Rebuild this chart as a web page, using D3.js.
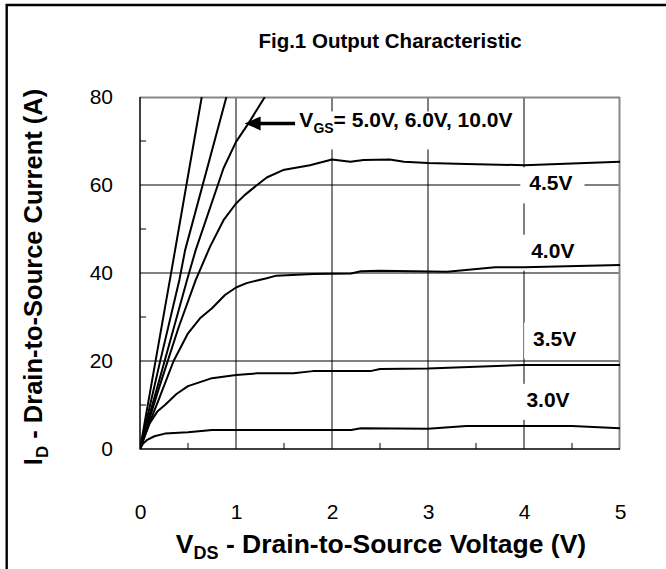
<!DOCTYPE html>
<html><head><meta charset="utf-8">
<script src="https://cdn.jsdelivr.net/npm/d3@7"></script>
<style>
body{margin:0;background:#fff}
svg{display:block}
text{font-family:"Liberation Sans",Arial,Helvetica,sans-serif}
</style>
</head><body>
<svg id="chart" width="666" height="569"></svg>
<script>
// ---------- data ----------
const chartTitle = "Fig.1 Output Characteristic";
const xTickValues = [0, 1, 2, 3, 4, 5];
const yTickValues = [0, 20, 40, 60, 80];
const xMinorTicks = [0.5, 1.5, 2.5, 3.5, 4.5];
const yMinorTicks = [10, 30, 50, 70];
const seriesNames = ["3.0V", "3.5V", "4.0V", "4.5V", "5.0V", "6.0V", "10.0V"];
// each series: [V_DS (V), I_D (A)]
const vgs3_0 = [[0,0],[0.03,1.2],[0.07,2.0],[0.15,2.9],[0.26,3.5],[0.5,3.8],[0.75,4.3],[2.2,4.3],[2.3,4.7],[3.0,4.6],[3.4,5.2],[4.5,5.2],[5.0,4.7]];
const vgs3_5 = [[0,0],[0.05,3],[0.1,5.8],[0.18,8.5],[0.26,10],[0.38,12.5],[0.5,14.3],[0.75,16.1],[1.0,16.8],[1.22,17.2],[1.6,17.2],[1.8,17.7],[2.4,17.7],[2.5,18.2],[3.0,18.3],[4.0,19.1],[5.0,19.1]];
const vgs4_0 = [[0,0],[0.1,6],[0.2,11.5],[0.35,20],[0.5,26.3],[0.625,29.7],[0.75,32.0],[0.885,35.0],[1.0,36.7],[1.11,37.7],[1.22,38.3],[1.32,38.8],[1.42,39.4],[1.8,39.8],[2.2,39.9],[2.3,40.4],[2.5,40.5],[3.2,40.3],[3.7,41.3],[4.0,41.3],[5.0,41.8]];
const vgs4_5 = [[0,0],[0.2,14],[0.4,27.5],[0.58,38.4],[0.73,46],[0.87,52],[1.0,55.8],[1.09,57.7],[1.22,60.0],[1.32,61.7],[1.49,63.4],[1.77,64.5],[2.0,65.8],[2.19,65.3],[2.33,65.7],[2.6,65.8],[2.75,65.3],[3.0,65.0],[3.4,64.8],[4.0,64.5],[4.5,64.9],[5.0,65.3]];
const vgs5_0 = [[0,0],[0.25,19.5],[0.49,38.4],[0.58,45.2],[0.87,63.8],[1.0,69.8],[1.13,74],[1.3,80]];
const vgs6_0 = [[0,0],[0.2,19],[0.41,38.4],[0.47,45.2],[0.9,80]];
const vgs10_0 = [[0,0],[0.32,39.5],[0.643,80]];
const seriesData = [vgs3_0, vgs3_5, vgs4_0, vgs4_5, vgs5_0, vgs6_0, vgs10_0];
// curve labels: [text, V_DS, I_D] (label centre in data units)
const curveLabels = [["4.5V", 4.28, 60.5], ["4.0V", 4.3, 45.2], ["3.5V", 4.32, 25.2], ["3.0V", 4.25, 11.3]];
const vgsNote = {lead: "V", sub: "GS", rest: "= 5.0V, 6.0V, 10.0V", x: 1.66, y: 74.8, arrowFrom: 1.615, arrowTo: 1.09, arrowY: 74.0};

// ---------- layout ----------
const svg = d3.select("#chart");
const L = 140, R = 620, T = 97, B = 449;
const x = d3.scaleLinear().domain([0, 5]).range([L, R]);
const y = d3.scaleLinear().domain([0, 80]).range([B, T]);

// outer frame (top + left)
svg.append("path").attr("d", "M6.7,569 V5 H666").attr("fill", "none").attr("stroke", "#000").attr("stroke-width", 2.4);

// title
svg.append("text").attr("x", 390).attr("y", 48).attr("text-anchor", "middle")
  .attr("font-size", 20.5).attr("font-weight", "bold").text(chartTitle);

// grid
const grid = svg.append("g");
grid.selectAll("line.v").data(xTickValues.filter(d => d > 0 && d < 5)).join("line")
  .attr("x1", d => x(d)).attr("x2", d => x(d)).attr("y1", T).attr("y2", B)
  .attr("stroke", "#000").attr("stroke-width", 1);
grid.selectAll("line.h").data(yTickValues.filter(d => d > 0 && d < 80)).join("line")
  .attr("y1", d => y(d)).attr("y2", d => y(d)).attr("x1", L).attr("x2", R)
  .attr("stroke", "#000").attr("stroke-width", 1);

// minor ticks
svg.append("g").selectAll("line").data(xMinorTicks).join("line")
  .attr("x1", d => x(d)).attr("x2", d => x(d)).attr("y1", B).attr("y2", B - 6)
  .attr("stroke", "#000").attr("stroke-width", 1);
svg.append("g").selectAll("line").data(yMinorTicks).join("line")
  .attr("y1", d => y(d)).attr("y2", d => y(d)).attr("x1", L).attr("x2", L + 6)
  .attr("stroke", "#000").attr("stroke-width", 1);

// label boxes + labels
const labG = svg.append("g");
const labelFont = 21;
curveLabels.forEach(([t, vx, vy]) => {
  const base = y(vy) + labelFont * 0.36;
  const tx = labG.append("text").attr("x", x(vx)).attr("y", base)
    .attr("text-anchor", "middle").attr("font-size", labelFont).attr("font-weight", "bold").text(t);
  const bb = tx.node().getBBox();
  labG.insert("rect", "text").attr("x", bb.x - 9).attr("y", base - 23)
    .attr("width", bb.width + 21).attr("height", 36).attr("fill", "#fff");
});

// Vgs annotation
const noteBase = y(vgsNote.y) + labelFont * 0.36;
const noteT = labG.append("text").attr("x", x(vgsNote.x)).attr("y", noteBase)
  .attr("font-size", labelFont).attr("font-weight", "bold");
noteT.append("tspan").text(vgsNote.lead);
noteT.append("tspan").attr("font-size", 14).attr("dy", 6).text(vgsNote.sub);
noteT.append("tspan").attr("dy", -6).text(vgsNote.rest);
{
  const bb = noteT.node().getBBox();
  labG.insert("rect", "text").attr("x", bb.x - 3).attr("y", noteBase - 16)
    .attr("width", bb.width + 10).attr("height", 38).attr("fill", "#fff");
}

// frame
svg.append("line").attr("x1", L).attr("x2", R).attr("y1", T + 0.5).attr("y2", T + 0.5).attr("stroke", "#888").attr("stroke-width", 2);
svg.append("line").attr("x1", R - 0.5).attr("x2", R - 0.5).attr("y1", T).attr("y2", B).attr("stroke", "#888").attr("stroke-width", 2);
svg.append("line").attr("x1", L).attr("x2", L).attr("y1", T).attr("y2", B + 0.5).attr("stroke", "#000").attr("stroke-width", 1.5);
svg.append("line").attr("x1", L).attr("x2", R).attr("y1", B).attr("y2", B).attr("stroke", "#000").attr("stroke-width", 1.5);

// curves
svg.append("clipPath").attr("id", "clip").append("rect").attr("x", L).attr("y", T).attr("width", R - L).attr("height", B - T);
const line = d3.line().x(d => x(d[0])).y(d => y(d[1]));
svg.append("g").attr("clip-path", "url(#clip)").selectAll("path").data(seriesData).join("path")
  .attr("d", line).attr("fill", "none").attr("stroke", "#000").attr("stroke-width", 2).attr("stroke-linejoin", "round");

// arrow
const ay = y(vgsNote.arrowY);
svg.append("line").attr("x1", x(vgsNote.arrowFrom)).attr("x2", x(vgsNote.arrowTo) + 12).attr("y1", ay).attr("y2", ay)
  .attr("stroke", "#000").attr("stroke-width", 3.5);
svg.append("path").attr("d", `M${x(vgsNote.arrowTo)},${ay} l16,-7 l0,14 z`).attr("fill", "#000");

// axes tick labels
const xAxis = svg.append("g").attr("transform", `translate(0,${B})`)
  .call(d3.axisBottom(x).tickValues(xTickValues).tickSize(0).tickPadding(55).tickFormat(d3.format("d")));
xAxis.select(".domain").remove();
xAxis.attr("font-size", 21).attr("font-family", null);
xAxis.selectAll("text").attr("fill", "#000");
const yAxis = svg.append("g").attr("transform", `translate(${L},0)`)
  .call(d3.axisLeft(y).tickValues(yTickValues).tickSize(0).tickPadding(27).tickFormat(d3.format("d")));
yAxis.select(".domain").remove();
yAxis.attr("font-size", 21).attr("font-family", null);
yAxis.selectAll("text").attr("fill", "#000");

// axis titles
const xt = svg.append("text").attr("x", 381).attr("y", 553).attr("text-anchor", "middle")
  .attr("font-size", 26.5).attr("font-weight", "bold");
xt.append("tspan").text("V");
xt.append("tspan").attr("font-size", 18).attr("dy", 6).text("DS");
xt.append("tspan").attr("dy", -6).text(" - Drain-to-Source Voltage (V)");

const yt = svg.append("text").attr("transform", "translate(42,277) rotate(-90)").attr("text-anchor", "middle")
  .attr("font-size", 25.5).attr("font-weight", "bold");
yt.append("tspan").text("I");
yt.append("tspan").attr("font-size", 17).attr("dy", 6).text("D");
yt.append("tspan").attr("dy", -6).text(" - Drain-to-Source Current (A)");
</script>
</body></html>
